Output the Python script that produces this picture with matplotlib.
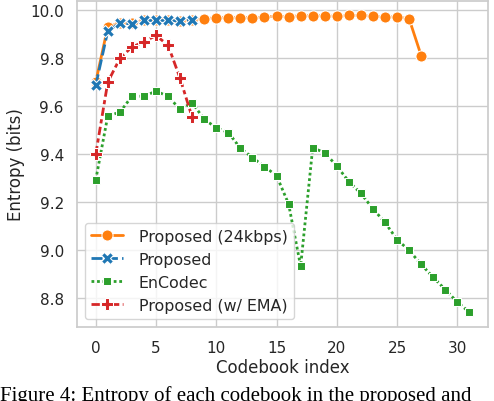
import matplotlib
matplotlib.use("Agg")
import matplotlib.pyplot as plt
import seaborn as sns

# entropy per codebook
idx_24k = list(range(28))
ent_24k = [9.70, 9.93, 9.945, 9.945, 9.956, 9.96, 9.96, 9.954, 9.96, 9.963,
           9.968, 9.968, 9.968, 9.968, 9.97, 9.974, 9.972, 9.976, 9.976, 9.976,
           9.973, 9.977, 9.977, 9.974, 9.97, 9.972, 9.963, 9.81]

idx_prop = list(range(9))
ent_prop = [9.687, 9.912, 9.945, 9.942, 9.956, 9.956, 9.956, 9.954, 9.96]

idx_enc = list(range(32))
ent_enc = [9.293, 9.56, 9.574, 9.641, 9.641, 9.662, 9.641, 9.586, 9.614, 9.545,
           9.51, 9.49, 9.425, 9.386, 9.348, 9.311, 9.193, 8.934, 9.427, 9.406,
           9.351, 9.286, 9.237, 9.173, 9.116, 9.045, 9.0, 8.942, 8.888, 8.837,
           8.785, 8.743]

idx_ema = list(range(9))
ent_ema = [9.40, 9.70, 9.798, 9.846, 9.867, 9.894, 9.853, 9.715, 9.553]

sns.set_theme(style="whitegrid")
plt.rcParams['font.family'] = ['DejaVu Sans']

fig = plt.figure(figsize=(4.94, 4.02), dpi=100)
ax = fig.add_axes([0.156, 0.184, 0.832, 0.812])

pal = sns.color_palette("tab10")
common = dict(lw=2.0, ms=8, mec="w", mew=0.75)

ax.plot(idx_24k, ent_24k, color=pal[1], marker="o", label="Proposed (24kbps)", **common)
ax.plot(idx_prop, ent_prop, color=pal[0], marker="X", dashes=(4, 1.5),
        label="Proposed", **common)
ax.plot(idx_enc, ent_enc, color=pal[2], marker=(4, 0, 45), dashes=(1, 1),
        label="EnCodec", **common)
ax.plot(idx_ema, ent_ema, color=pal[3], marker="P", dashes=(3, 1.25, 1.5, 1.25),
        label="Proposed (w/ EMA)", **common)

ax.set_xticks([0, 5, 10, 15, 20, 25, 30])
ax.set_yticks([8.8, 9.0, 9.2, 9.4, 9.6, 9.8, 10.0])
ax.set_xlabel("Codebook index", labelpad=2)
ax.set_ylabel("Entropy (bits)")
ax.legend(loc="lower left", fontsize=11.4, handletextpad=1.0)

# caption of the paper, cut off at the bottom edge
fig.text(0.0, 0.002, "Figure 4: Entropy of each codebook in the proposed and",
         family="Liberation Serif", fontsize=15, color="black", va="baseline")

fig.savefig("out.png", dpi=100)
